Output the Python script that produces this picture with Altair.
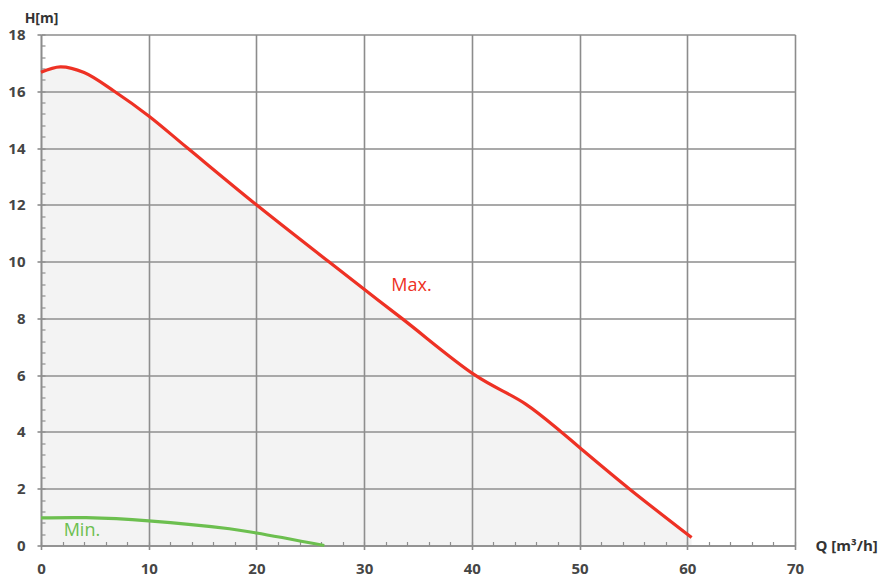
import altair as alt
import pandas as pd

# Max. curve (red)
max_q = [0, 1.8, 4.0, 6.8, 10, 13.6, 20, 26.7, 33.5, 40.3, 45, 48.3, 50, 54.6, 60.4]
max_h = [16.67, 16.86, 16.66, 16.0, 15.13, 14.0, 12.0, 10.0, 8.0, 6.0, 4.98, 4.0, 3.45, 2.0, 0.28]
# Min. curve (green)
min_q = [0, 4.2, 10, 17.5, 20, 26.3]
min_h = [0.97, 0.98, 0.87, 0.59, 0.44, 0.0]

# curve labels
label_text = ["Max.", "Min."]
label_q = [34.4, 3.8]
label_h = [9.14, 0.52]
label_color = ["#ee3124", "#6cbf4f"]

# axis ticks
x_major = [0, 10, 20, 30, 40, 50, 60, 70]
y_major = [0, 2, 4, 6, 8, 10, 12, 14, 16, 18]
x_minor = [v for v in range(0, 71, 2)]
y_minor = [round(i * 0.4, 1) for i in range(0, 46)]

df_max = pd.DataFrame({"Q": max_q, "H": max_h})
df_min = pd.DataFrame({"Q": min_q, "H": min_h})
df_lab = pd.DataFrame({"Q": label_q, "H": label_h, "t": label_text, "c": label_color})

W, H = 754, 511
GRID = "#8c8c8c"
FONT = "Open Sans"

xs = alt.Scale(domain=[0, 70], nice=False, zero=True)
ys = alt.Scale(domain=[0, 18], nice=False, zero=True)

x_axis = alt.Axis(
    values=x_major, grid=True, gridColor=GRID, gridWidth=1.6, gridOpacity=1,
    domainColor=GRID, domainWidth=1.6, tickColor=GRID, tickWidth=1.6, tickSize=4,
    labelFont=FONT, labelFontSize=15, labelFontWeight="bold", labelColor="#454545",
    labelPadding=12, labelFlush=False,
    title="Q [m³/h]", titleFont=FONT, titleFontSize=15, titleFontWeight="bold",
    titleColor="#333333", titleX=774, titleY=0, titleAlign="left",
    titleBaseline="middle", titleAngle=0,
)
y_axis = alt.Axis(
    values=y_major, grid=True, gridColor=GRID, gridWidth=1.6, gridOpacity=1,
    domainColor=GRID, domainWidth=1.6, tickColor=GRID, tickWidth=1.6, tickSize=4,
    labelFont=FONT, labelFontSize=15, labelFontWeight="bold", labelColor="#454545",
    labelPadding=12, labelFlush=False,
    title="H[m]", titleFont=FONT, titleFontSize=14, titleFontWeight="bold",
    titleColor="#333333", titleX=0, titleY=-16, titleAlign="center",
    titleBaseline="middle", titleAngle=0,
)

area = alt.Chart(df_max).mark_area(
    color="#a0a0a0", opacity=0.13, interpolate="catmull-rom"
).encode(
    x=alt.X("Q:Q", scale=xs, axis=x_axis),
    y=alt.Y("H:Q", scale=ys, axis=y_axis),
)

red = alt.Chart(df_max).mark_line(
    color="#ee3124", strokeWidth=3.2, interpolate="catmull-rom"
).encode(
    x=alt.X("Q:Q", scale=xs, axis=None),
    y=alt.Y("H:Q", scale=ys, axis=None),
)

green = alt.Chart(df_min).mark_line(
    color="#6cbf4f", strokeWidth=3.2, interpolate="catmull-rom"
).encode(
    x=alt.X("Q:Q", scale=xs, axis=None),
    y=alt.Y("H:Q", scale=ys, axis=None),
)

labels = alt.Chart(df_lab).mark_text(
    font=FONT, fontSize=18, align="center", baseline="middle"
).encode(
    x=alt.X("Q:Q", scale=xs, axis=None),
    y=alt.Y("H:Q", scale=ys, axis=None),
    text="t:N",
    color=alt.Color("c:N", scale=None),
)

minor = alt.Chart(df_max).mark_point(opacity=0).encode(
    x=alt.X("Q:Q", scale=xs, axis=alt.Axis(
        orient="top", offset=-H, values=x_minor, labels=False, grid=False,
        domain=False, ticks=True, tickSize=4, tickColor=GRID, tickWidth=1.2,
        title=None)),
    y=alt.Y("H:Q", scale=ys, axis=alt.Axis(
        orient="right", offset=-W, values=y_minor, labels=False, grid=False,
        domain=False, ticks=True, tickSize=4, tickColor=GRID, tickWidth=1.2,
        title=None)),
)

chart = alt.layer(area, minor, red, green, labels).resolve_axis(
    x="independent", y="independent"
).properties(
    width=W, height=H,
    autosize=alt.AutoSizeParams(type="none"),
    padding={"left": 33, "top": 26.5, "right": 84, "bottom": 35},
    background="white",
).configure_view(stroke=None)

chart.save("out.html", embed_options={"renderer": "svg", "actions": False})
